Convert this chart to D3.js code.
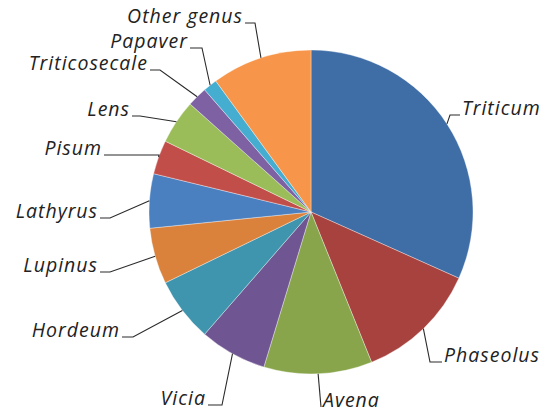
<!DOCTYPE html>
<html>
<head>
<meta charset="utf-8">
<script src="https://cdn.jsdelivr.net/npm/d3@7"></script>
<style>
  body { margin: 0; background: #fff; }
  svg text { font-family: "Open Sans", Lato, sans-serif; font-style: italic; }
</style>
</head>
<body>
<div id="chart"></div>
<script>
// genus shares (%), clockwise from 12 o'clock
const genera = ['Triticum', 'Phaseolus', 'Avena', 'Vicia', 'Hordeum', 'Lupinus',
  'Lathyrus', 'Pisum', 'Lens', 'Triticosecale', 'Papaver', 'Other genus'];
const shares = [31.7, 12.2, 10.8, 6.7, 6.4, 5.6, 5.4, 3.4, 4.4, 2.0, 1.4, 10.0];
const colors = ['#3f6da6', '#a7423e', '#88a54b', '#6f5591', '#3f94ae', '#da823b',
  '#4a7fc0', '#c24e4a', '#9bbd59', '#7e61a3', '#45aed0', '#f7964a'];

// label layout: knee point of the leader line and length of the short tail
const labelKnee = [
  [450, 115, 10], [430, 362, 12], [321, 407, 0], [222, 405, -14],
  [133, 337, -11], [110, 272, -10], [110, 218, -10], [159, 155, -55],
  [140, 116, -8], [160, 70, -10], [202, 48, -12], [255, 23, -10],
];

const width = 543;
const height = 412;
const cx = 311;
const cy = 212;
const radius = 162;

const data = genera.map((g, i) => ({ genus: g, value: shares[i], color: colors[i], knee: labelKnee[i] }));

const svg = d3.select('#chart')
  .append('svg')
  .attr('width', width)
  .attr('height', height);

const pie = d3.pie().sort(null).value((d) => d.value);
const arc = d3.arc().innerRadius(0).outerRadius(radius);
const arcs = pie(data);

const g = svg.append('g').attr('transform', `translate(${cx},${cy})`);

g.selectAll('path.slice')
  .data(arcs)
  .enter()
  .append('path')
  .attr('class', 'slice')
  .attr('d', arc)
  .attr('fill', (d) => d.data.color)
  .attr('stroke', '#ffffff')
  .attr('stroke-opacity', 0.6)
  .attr('stroke-width', 0.6);

// leader lines
const edgePoint = (d) => {
  const a = (d.startAngle + d.endAngle) / 2;
  return [cx + radius * Math.sin(a), cy - radius * Math.cos(a)];
};

svg.selectAll('path.leader')
  .data(arcs)
  .enter()
  .append('path')
  .attr('class', 'leader')
  .attr('fill', 'none')
  .attr('stroke', '#2a2a2a')
  .attr('stroke-width', 1.1)
  .attr('d', (d) => {
    const [x0, y0] = edgePoint(d);
    const [kx, ky, tail] = d.data.knee;
    return d3.line()([[x0, y0], [kx, ky], [kx + tail, ky]]);
  });

svg.selectAll('text.label')
  .data(arcs)
  .enter()
  .append('text')
  .attr('class', 'label')
  .attr('x', (d) => {
    const [kx, , tail] = d.data.knee;
    return tail >= 0 ? kx + tail + 2 : kx + tail - 2;
  })
  .attr('y', (d) => d.data.knee[1])
  .attr('text-anchor', (d) => (d.data.knee[2] >= 0 ? 'start' : 'end'))
  .attr('font-size', '19.5px')
  .attr('letter-spacing', '1px')
  .attr('fill', '#222')
  .text((d) => d.data.genus);
</script>
</body>
</html>
